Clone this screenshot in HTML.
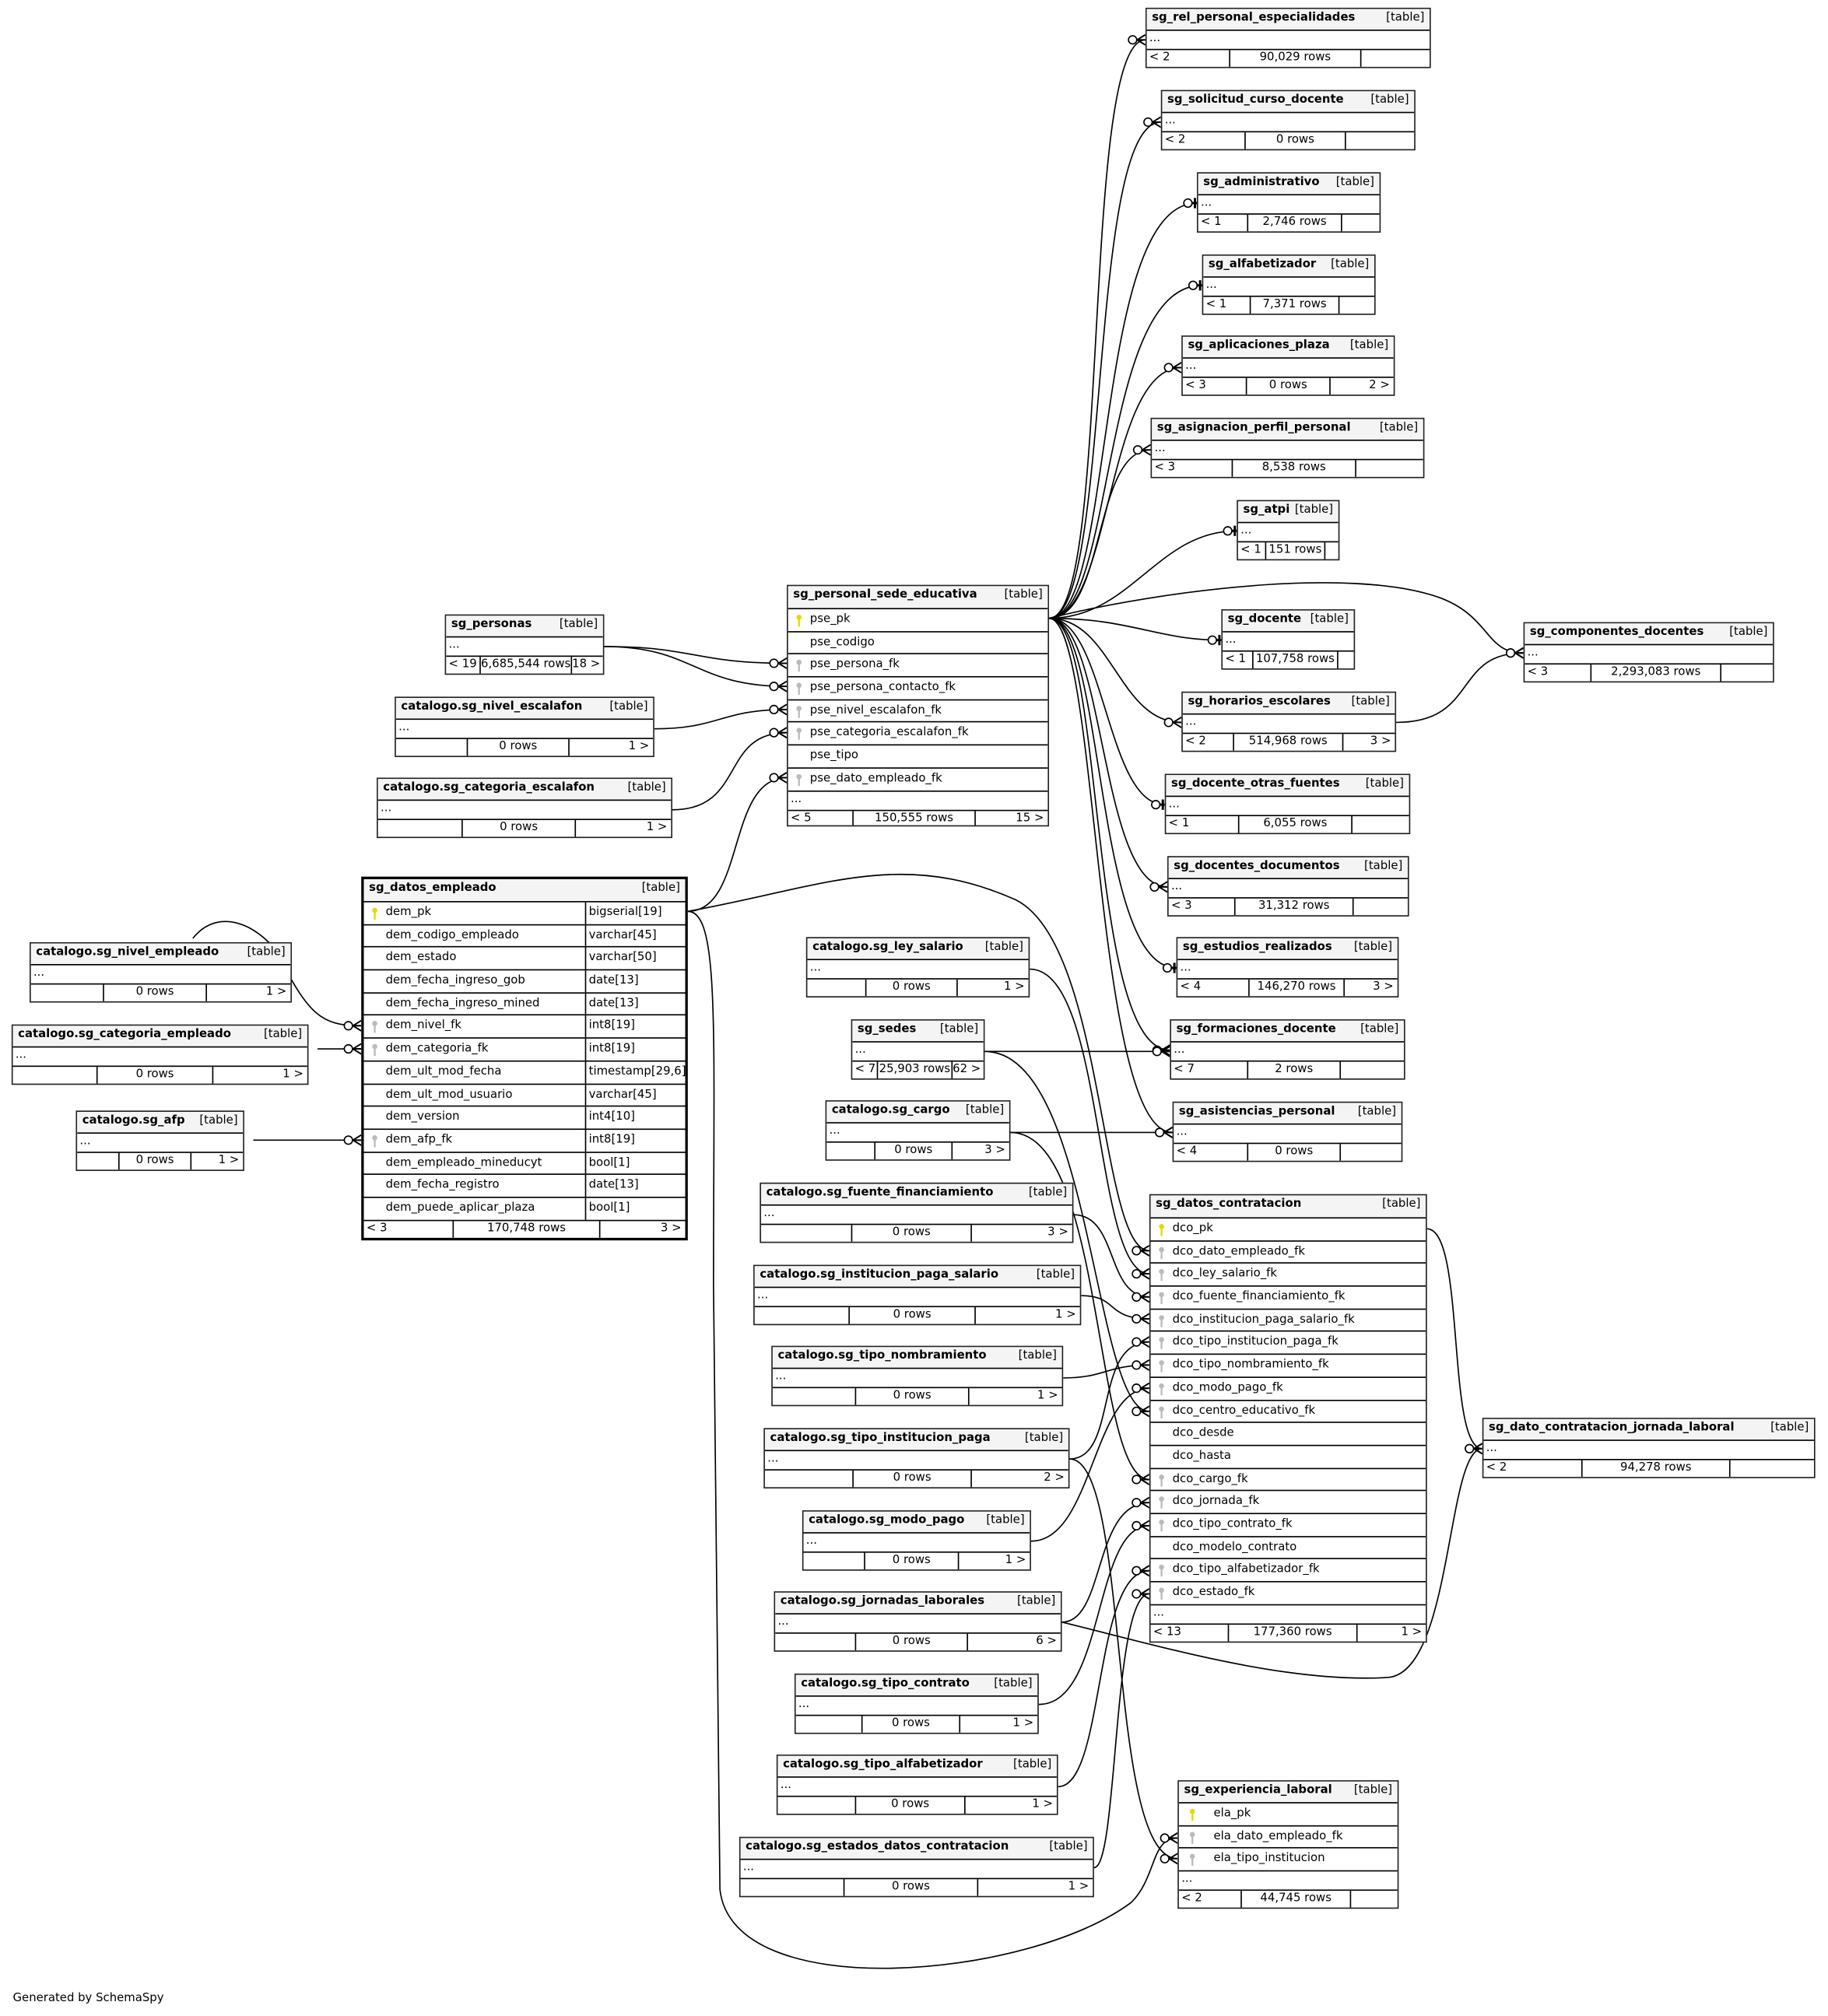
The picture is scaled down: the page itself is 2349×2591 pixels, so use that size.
<!DOCTYPE html>
<html><head><meta charset="utf-8">
<style>
*{box-sizing:border-box;margin:0;padding:0}
html,body{width:2349px;height:2591px;background:#fff;overflow:hidden}
#d{position:absolute;left:0;top:0;width:1422px;height:1568px;transform:scale(1.652);transform-origin:0 0;font-family:"DejaVu Sans","Liberation Sans",sans-serif;font-size:9px;color:#000}
.t{position:absolute;border:1px solid #222;background:#fff;display:flex;flex-direction:column;height:47px;overflow:hidden}
.h{height:17px;flex:none;background:#f4f4f4;border-bottom:1px solid #000;display:flex;justify-content:space-between;padding:0 4px;line-height:14px;white-space:nowrap}
.h b{font-weight:bold}
.d{height:15px;flex:none;border-bottom:1px solid #000;padding-left:2px;line-height:12px}
.f{flex:1;display:flex;line-height:13px;white-space:nowrap}
.f span{border-right:1px solid #000;text-align:center;flex:none}
.f span:first-child{text-align:left;padding-left:2px}
.f span:last-child{border-right:none;flex:1;text-align:right;padding-right:3px}
.c{height:17.7px;flex:none;border-bottom:1px solid #000;position:relative;padding-left:17px;line-height:16px;white-space:nowrap}
.c svg{position:absolute;left:6px;top:4px}
.ty{position:absolute;left:172px;top:0;bottom:0;border-left:1px solid #000;padding-left:2px}
.big{height:auto}
#lines{position:absolute;left:0;top:0}
</style></head><body><div id="d">
<svg id="lines" width="1422" height="1568" viewBox="0 0 1422 1568">
<defs>
<marker id="m" markerUnits="userSpaceOnUse" markerWidth="16" markerHeight="12" refX="14" refY="6" orient="auto" overflow="visible">
<circle cx="4" cy="6" r="3.2" fill="#fff" stroke="#000" stroke-width="1"/>
<path d="M7.5,6 L14,6 M7.5,6 L14,2 M7.5,6 L14,10" stroke="#000" stroke-width="1.2" fill="none"/>
</marker>
<marker id="o" markerUnits="userSpaceOnUse" markerWidth="16" markerHeight="12" refX="14" refY="6" orient="auto" overflow="visible">
<circle cx="7" cy="6" r="3.2" fill="#fff" stroke="#000" stroke-width="1"/>
<path d="M10.2,6 L14,6 M12.5,2 L12.5,10" stroke="#000" stroke-width="1.8" fill="none"/>
</marker>
<symbol id="ky" viewBox="0 0 5 10"><circle cx="2.5" cy="2.2" r="2" /><rect x="1.8" y="3" width="1.4" height="6.5"/></symbol>
</defs>
<g fill="none" stroke="#000" stroke-width="1">
<path marker-end="url(#m)" d="M816,481 C865,481 840,31 891,31"/>
<path marker-end="url(#m)" d="M816,481 C865,481 845,95 903,95"/>
<path marker-end="url(#o)" d="M816,481 C868,481 850,158 931,158"/>
<path marker-end="url(#o)" d="M816,481 C868,481 855,222 935,222"/>
<path marker-end="url(#m)" d="M816,481 C865,481 860,286 919,286"/>
<path marker-end="url(#m)" d="M816,481 C860,481 850,350 895,350"/>
<path marker-end="url(#o)" d="M816,481 C880,481 900,413 962,413"/>
<path marker-end="url(#o)" d="M816,481 C880,481 900,498 950,498"/>
<path marker-end="url(#m)" d="M816,481 C865,481 870,562 919,562"/>
<path marker-end="url(#o)" d="M816,481 C860,481 860,626 906,626"/>
<path marker-end="url(#m)" d="M816,481 C860,481 855,690 908,690"/>
<path marker-end="url(#o)" d="M816,481 C860,481 850,753 915,753"/>
<path marker-end="url(#m)" d="M816,481 C860,481 845,817 910,817"/>
<path marker-end="url(#m)" d="M816,481 C855,481 850,881 912,881"/>
<path marker-end="url(#m)" d="M816,481 C900,460 1050,440 1120,465 C1160,480 1155,508 1185,508"/>
<path marker-end="url(#m)" d="M1086,562 C1150,562 1130,508 1185,508"/>
<path marker-end="url(#m)" d="M535,709 C580,709 565,605 612,605"/>
<path marker-end="url(#m)" d="M535,709 C640,690 700,660 790,700 C860,735 855,973 894,973"/>
<path marker-end="url(#m)" d="M535,709 C560,709 555,800 555,1000 L560,1470 C570,1560 800,1540 880,1480 C900,1460 895,1430 916,1430"/>
<path marker-end="url(#m)" d="M832,1135 C880,1135 860,1446 916,1446"/>
<path marker-end="url(#m)" d="M470,503 C540,503 540,516 612,516"/>
<path marker-end="url(#m)" d="M470,503 C540,503 540,534 612,534"/>
<path marker-end="url(#m)" d="M509,567 C560,567 560,552 612,552"/>
<path marker-end="url(#m)" d="M523,630 C580,630 560,570 612,570"/>
<path marker-end="url(#m)" d="M150,730 C170,705 200,720 215,740 C240,790 250,798 281,798"/>
<path marker-end="url(#m)" d="M247,816 L281,816"/>
<path marker-end="url(#m)" d="M197,887 L281,887"/>
<path marker-end="url(#m)" d="M766,818 L910,818"/>
<path marker-end="url(#m)" d="M766,818 C850,818 850,1098 894,1098"/>
<path marker-end="url(#m)" d="M786,881 L912,881"/>
<path marker-end="url(#m)" d="M786,881 C860,881 850,1151 894,1151"/>
<path marker-end="url(#m)" d="M801,754 C860,754 850,991 894,991"/>
<path marker-end="url(#m)" d="M835,945 C870,945 860,1009 894,1009"/>
<path marker-end="url(#m)" d="M841,1008 C870,1008 860,1026 894,1026"/>
<path marker-end="url(#m)" d="M827,1072 C860,1072 860,1062 894,1062"/>
<path marker-end="url(#m)" d="M832,1135 C870,1135 850,1044 894,1044"/>
<path marker-end="url(#m)" d="M802,1199 C850,1199 850,1080 894,1080"/>
<path marker-end="url(#m)" d="M826,1262 C860,1262 850,1169 894,1169"/>
<path marker-end="url(#m)" d="M826,1262 C900,1280 1000,1310 1080,1305 C1130,1300 1125,1127 1153,1127"/>
<path marker-end="url(#m)" d="M808,1326 C860,1326 850,1187 894,1187"/>
<path marker-end="url(#m)" d="M823,1390 C860,1390 850,1222 894,1222"/>
<path marker-end="url(#m)" d="M851,1453 C870,1453 865,1240 894,1240"/>
<path marker-end="url(#m)" d="M1110,956 C1140,956 1125,1127 1153,1127"/>
</g>
</svg>

<div class="t" style="left:891px;top:6px;width:222px"><div class="h"><b>sg_rel_personal_especialidades</b><span>[table]</span></div><div class="d">...</div><div class="f"><span style="width:65px">&lt; 2</span><span style="width:102px">90,029 rows</span><span></span></div></div>
<div class="t" style="left:903px;top:70px;width:198px"><div class="h"><b>sg_solicitud_curso_docente</b><span>[table]</span></div><div class="d">...</div><div class="f"><span style="width:65px">&lt; 2</span><span style="width:78px">0 rows</span><span></span></div></div>
<div class="t" style="left:931px;top:134px;width:143px"><div class="h"><b>sg_administrativo</b><span>[table]</span></div><div class="d">...</div><div class="f"><span style="width:39px">&lt; 1</span><span style="width:73px">2,746 rows</span><span></span></div></div>
<div class="t" style="left:935px;top:198px;width:135px"><div class="h"><b>sg_alfabetizador</b><span>[table]</span></div><div class="d">...</div><div class="f"><span style="width:37px">&lt; 1</span><span style="width:69px">7,371 rows</span><span></span></div></div>
<div class="t" style="left:919px;top:261px;width:166px"><div class="h"><b>sg_aplicaciones_plaza</b><span>[table]</span></div><div class="d">...</div><div class="f"><span style="width:50px">&lt; 3</span><span style="width:65px">0 rows</span><span>2 &gt;</span></div></div>
<div class="t" style="left:895px;top:325px;width:213px"><div class="h"><b>sg_asignacion_perfil_personal</b><span>[table]</span></div><div class="d">...</div><div class="f"><span style="width:63px">&lt; 3</span><span style="width:96px">8,538 rows</span><span></span></div></div>
<div class="t" style="left:962px;top:389px;width:80px"><div class="h"><b>sg_atpi</b><span>[table]</span></div><div class="d">...</div><div class="f"><span style="width:22px">&lt; 1</span><span style="width:46px">151 rows</span><span></span></div></div>
<div class="t" style="left:950px;top:474px;width:104px"><div class="h"><b>sg_docente</b><span>[table]</span></div><div class="d">...</div><div class="f"><span style="width:24px">&lt; 1</span><span style="width:66px">107,758 rows</span><span></span></div></div>
<div class="t" style="left:919px;top:538px;width:167px"><div class="h"><b>sg_horarios_escolares</b><span>[table]</span></div><div class="d">...</div><div class="f"><span style="width:40px">&lt; 2</span><span style="width:85px">514,968 rows</span><span>3 &gt;</span></div></div>
<div class="t" style="left:906px;top:602px;width:191px"><div class="h"><b>sg_docente_otras_fuentes</b><span>[table]</span></div><div class="d">...</div><div class="f"><span style="width:57px">&lt; 1</span><span style="width:88px">6,055 rows</span><span></span></div></div>
<div class="t" style="left:908px;top:666px;width:188px"><div class="h"><b>sg_docentes_documentos</b><span>[table]</span></div><div class="d">...</div><div class="f"><span style="width:52px">&lt; 3</span><span style="width:92px">31,312 rows</span><span></span></div></div>
<div class="t" style="left:915px;top:729px;width:173px"><div class="h"><b>sg_estudios_realizados</b><span>[table]</span></div><div class="d">...</div><div class="f"><span style="width:56px">&lt; 4</span><span style="width:74px">146,270 rows</span><span>3 &gt;</span></div></div>
<div class="t" style="left:910px;top:793px;width:183px"><div class="h"><b>sg_formaciones_docente</b><span>[table]</span></div><div class="d">...</div><div class="f"><span style="width:60px">&lt; 7</span><span style="width:72px">2 rows</span><span></span></div></div>
<div class="t" style="left:912px;top:857px;width:179px"><div class="h"><b>sg_asistencias_personal</b><span>[table]</span></div><div class="d">...</div><div class="f"><span style="width:58px">&lt; 4</span><span style="width:72px">0 rows</span><span></span></div></div>
<div class="t" style="left:1185px;top:484px;width:195px"><div class="h"><b>sg_componentes_docentes</b><span>[table]</span></div><div class="d">...</div><div class="f"><span style="width:52px">&lt; 3</span><span style="width:101px">2,293,083 rows</span><span></span></div></div>
<div class="t" style="left:1153px;top:1103px;width:259px"><div class="h"><b>sg_dato_contratacion_jornada_laboral</b><span>[table]</span></div><div class="d">...</div><div class="f"><span style="width:77px">&lt; 2</span><span style="width:115px">94,278 rows</span><span></span></div></div>
<div class="t" style="left:346px;top:478px;width:124px"><div class="h"><b>sg_personas</b><span>[table]</span></div><div class="d">...</div><div class="f"><span style="width:27px">&lt; 19</span><span style="width:71px">6,685,544 rows</span><span>18 &gt;</span></div></div>
<div class="t" style="left:307px;top:542px;width:202px"><div class="h"><b>catalogo.sg_nivel_escalafon</b><span>[table]</span></div><div class="d">...</div><div class="f"><span style="width:56px"></span><span style="width:79px">0 rows</span><span>1 &gt;</span></div></div>
<div class="t" style="left:293px;top:605px;width:230px"><div class="h"><b>catalogo.sg_categoria_escalafon</b><span>[table]</span></div><div class="d">...</div><div class="f"><span style="width:66px"></span><span style="width:88px">0 rows</span><span>1 &gt;</span></div></div>
<div class="t" style="left:23px;top:733px;width:204px"><div class="h"><b>catalogo.sg_nivel_empleado</b><span>[table]</span></div><div class="d">...</div><div class="f"><span style="width:57px"></span><span style="width:80px">0 rows</span><span>1 &gt;</span></div></div>
<div class="t" style="left:9px;top:797px;width:231px"><div class="h"><b>catalogo.sg_categoria_empleado</b><span>[table]</span></div><div class="d">...</div><div class="f"><span style="width:66px"></span><span style="width:90px">0 rows</span><span>1 &gt;</span></div></div>
<div class="t" style="left:59px;top:864px;width:131px"><div class="h"><b>catalogo.sg_afp</b><span>[table]</span></div><div class="d">...</div><div class="f"><span style="width:33px"></span><span style="width:56px">0 rows</span><span>1 &gt;</span></div></div>
<div class="t" style="left:627px;top:729px;width:174px"><div class="h"><b>catalogo.sg_ley_salario</b><span>[table]</span></div><div class="d">...</div><div class="f"><span style="width:46px"></span><span style="width:71px">0 rows</span><span>1 &gt;</span></div></div>
<div class="t" style="left:662px;top:793px;width:104px"><div class="h"><b>sg_sedes</b><span>[table]</span></div><div class="d">...</div><div class="f"><span style="width:20px">&lt; 7</span><span style="width:58px">25,903 rows</span><span>62 &gt;</span></div></div>
<div class="t" style="left:642px;top:856px;width:144px"><div class="h"><b>catalogo.sg_cargo</b><span>[table]</span></div><div class="d">...</div><div class="f"><span style="width:38px"></span><span style="width:60px">0 rows</span><span>3 &gt;</span></div></div>
<div class="t" style="left:591px;top:920px;width:244px"><div class="h"><b>catalogo.sg_fuente_financiamiento</b><span>[table]</span></div><div class="d">...</div><div class="f"><span style="width:71px"></span><span style="width:93px">0 rows</span><span>3 &gt;</span></div></div>
<div class="t" style="left:586px;top:984px;width:255px"><div class="h"><b>catalogo.sg_institucion_paga_salario</b><span>[table]</span></div><div class="d">...</div><div class="f"><span style="width:74px"></span><span style="width:98px">0 rows</span><span>1 &gt;</span></div></div>
<div class="t" style="left:600px;top:1047px;width:227px"><div class="h"><b>catalogo.sg_tipo_nombramiento</b><span>[table]</span></div><div class="d">...</div><div class="f"><span style="width:65px"></span><span style="width:88px">0 rows</span><span>1 &gt;</span></div></div>
<div class="t" style="left:594px;top:1111px;width:238px"><div class="h"><b>catalogo.sg_tipo_institucion_paga</b><span>[table]</span></div><div class="d">...</div><div class="f"><span style="width:69px"></span><span style="width:92px">0 rows</span><span>2 &gt;</span></div></div>
<div class="t" style="left:624px;top:1175px;width:178px"><div class="h"><b>catalogo.sg_modo_pago</b><span>[table]</span></div><div class="d">...</div><div class="f"><span style="width:48px"></span><span style="width:73px">0 rows</span><span>1 &gt;</span></div></div>
<div class="t" style="left:602px;top:1238px;width:224px"><div class="h"><b>catalogo.sg_jornadas_laborales</b><span>[table]</span></div><div class="d">...</div><div class="f"><span style="width:63px"></span><span style="width:87px">0 rows</span><span>6 &gt;</span></div></div>
<div class="t" style="left:618px;top:1302px;width:190px"><div class="h"><b>catalogo.sg_tipo_contrato</b><span>[table]</span></div><div class="d">...</div><div class="f"><span style="width:52px"></span><span style="width:76px">0 rows</span><span>1 &gt;</span></div></div>
<div class="t" style="left:604px;top:1365px;width:219px"><div class="h"><b>catalogo.sg_tipo_alfabetizador</b><span>[table]</span></div><div class="d">...</div><div class="f"><span style="width:61px"></span><span style="width:85px">0 rows</span><span>1 &gt;</span></div></div>
<div class="t" style="left:575px;top:1429px;width:276px"><div class="h"><b>catalogo.sg_estados_datos_contratacion</b><span>[table]</span></div><div class="d">...</div><div class="f"><span style="width:81px"></span><span style="width:104px">0 rows</span><span>1 &gt;</span></div></div>

<div class="t big" style="left:612px;top:455px;width:204px;height:188px"><div class="h" style="height:18px"><b>sg_personal_sede_educativa</b><span>[table]</span></div>
<div class="c"><svg width="5" height="10" fill="#e6d800"><use href="#ky"/></svg>pse_pk</div>
<div class="c">pse_codigo</div>
<div class="c"><svg width="5" height="10" fill="#bbb"><use href="#ky"/></svg>pse_persona_fk</div>
<div class="c"><svg width="5" height="10" fill="#bbb"><use href="#ky"/></svg>pse_persona_contacto_fk</div>
<div class="c"><svg width="5" height="10" fill="#bbb"><use href="#ky"/></svg>pse_nivel_escalafon_fk</div>
<div class="c"><svg width="5" height="10" fill="#bbb"><use href="#ky"/></svg>pse_categoria_escalafon_fk</div>
<div class="c">pse_tipo</div>
<div class="c"><svg width="5" height="10" fill="#bbb"><use href="#ky"/></svg>pse_dato_empleado_fk</div>
<div class="d">...</div><div class="f"><span style="width:51px">&lt; 5</span><span style="width:95px">150,555 rows</span><span>15 &gt;</span></div></div>

<div class="t big" style="left:281px;top:682px;width:254px;height:283px;border:2px solid #000"><div class="h" style="height:18px"><b>sg_datos_empleado</b><span>[table]</span></div>
<div class="c"><svg width="5" height="10" fill="#e6d800"><use href="#ky"/></svg>dem_pk<span class="ty">bigserial[19]</span></div>
<div class="c">dem_codigo_empleado<span class="ty">varchar[45]</span></div>
<div class="c">dem_estado<span class="ty">varchar[50]</span></div>
<div class="c">dem_fecha_ingreso_gob<span class="ty">date[13]</span></div>
<div class="c">dem_fecha_ingreso_mined<span class="ty">date[13]</span></div>
<div class="c"><svg width="5" height="10" fill="#bbb"><use href="#ky"/></svg>dem_nivel_fk<span class="ty">int8[19]</span></div>
<div class="c"><svg width="5" height="10" fill="#bbb"><use href="#ky"/></svg>dem_categoria_fk<span class="ty">int8[19]</span></div>
<div class="c">dem_ult_mod_fecha<span class="ty">timestamp[29,6]</span></div>
<div class="c">dem_ult_mod_usuario<span class="ty">varchar[45]</span></div>
<div class="c">dem_version<span class="ty">int4[10]</span></div>
<div class="c"><svg width="5" height="10" fill="#bbb"><use href="#ky"/></svg>dem_afp_fk<span class="ty">int8[19]</span></div>
<div class="c">dem_empleado_mineducyt<span class="ty">bool[1]</span></div>
<div class="c">dem_fecha_registro<span class="ty">date[13]</span></div>
<div class="c">dem_puede_aplicar_plaza<span class="ty">bool[1]</span></div>
<div class="f"><span style="width:70px">&lt; 3</span><span style="width:114px">170,748 rows</span><span>3 &gt;</span></div></div>

<div class="t big" style="left:894px;top:929px;width:216px;height:349px"><div class="h" style="height:18px"><b>sg_datos_contratacion</b><span>[table]</span></div>
<div class="c"><svg width="5" height="10" fill="#e6d800"><use href="#ky"/></svg>dco_pk</div>
<div class="c"><svg width="5" height="10" fill="#bbb"><use href="#ky"/></svg>dco_dato_empleado_fk</div>
<div class="c"><svg width="5" height="10" fill="#bbb"><use href="#ky"/></svg>dco_ley_salario_fk</div>
<div class="c"><svg width="5" height="10" fill="#bbb"><use href="#ky"/></svg>dco_fuente_financiamiento_fk</div>
<div class="c"><svg width="5" height="10" fill="#bbb"><use href="#ky"/></svg>dco_institucion_paga_salario_fk</div>
<div class="c"><svg width="5" height="10" fill="#bbb"><use href="#ky"/></svg>dco_tipo_institucion_paga_fk</div>
<div class="c"><svg width="5" height="10" fill="#bbb"><use href="#ky"/></svg>dco_tipo_nombramiento_fk</div>
<div class="c"><svg width="5" height="10" fill="#bbb"><use href="#ky"/></svg>dco_modo_pago_fk</div>
<div class="c"><svg width="5" height="10" fill="#bbb"><use href="#ky"/></svg>dco_centro_educativo_fk</div>
<div class="c">dco_desde</div>
<div class="c">dco_hasta</div>
<div class="c"><svg width="5" height="10" fill="#bbb"><use href="#ky"/></svg>dco_cargo_fk</div>
<div class="c"><svg width="5" height="10" fill="#bbb"><use href="#ky"/></svg>dco_jornada_fk</div>
<div class="c"><svg width="5" height="10" fill="#bbb"><use href="#ky"/></svg>dco_tipo_contrato_fk</div>
<div class="c">dco_modelo_contrato</div>
<div class="c"><svg width="5" height="10" fill="#bbb"><use href="#ky"/></svg>dco_tipo_alfabetizador_fk</div>
<div class="c"><svg width="5" height="10" fill="#bbb"><use href="#ky"/></svg>dco_estado_fk</div>
<div class="d">...</div><div class="f"><span style="width:61px">&lt; 13</span><span style="width:100px">177,360 rows</span><span>1 &gt;</span></div></div>

<div class="t big" style="left:916px;top:1385px;width:172px;height:100px"><div class="h"><b>sg_experiencia_laboral</b><span>[table]</span></div>
<div class="c" style="padding-left:27px"><svg width="5" height="10" fill="#e6d800" style="left:8px"><use href="#ky"/></svg>ela_pk</div>
<div class="c" style="padding-left:27px"><svg width="5" height="10" fill="#bbb" style="left:8px"><use href="#ky"/></svg>ela_dato_empleado_fk</div>
<div class="c" style="padding-left:27px"><svg width="5" height="10" fill="#bbb" style="left:8px"><use href="#ky"/></svg>ela_tipo_institucion</div>
<div class="d">...</div><div class="f"><span style="width:49px">&lt; 2</span><span style="width:85px">44,745 rows</span><span></span></div></div>

<div style="position:absolute;left:10px;top:1550px;font-size:9px">Generated by SchemaSpy</div>
</div></body></html>
